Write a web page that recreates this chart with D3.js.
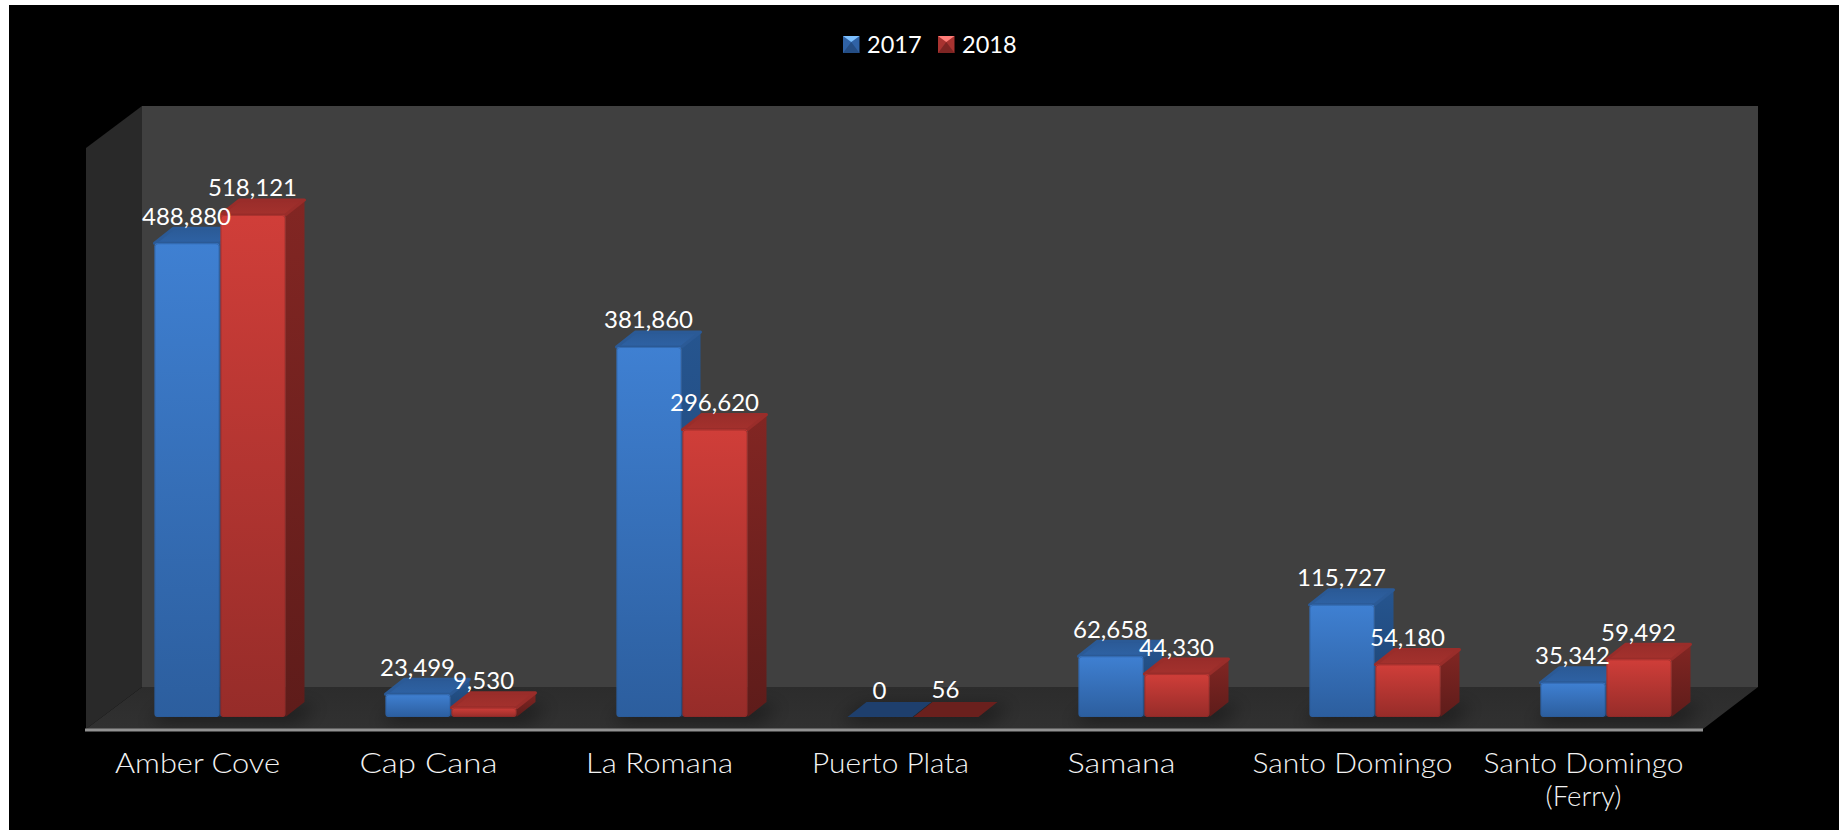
<!DOCTYPE html>
<html><head><meta charset="utf-8">
<script src="https://cdn.jsdelivr.net/npm/d3@7"></script>
<style>
html,body{margin:0;padding:0;background:#fff;overflow:hidden}
svg{display:block}
.cat text{font-family:Lato,sans-serif;font-weight:300;font-size:28px;fill:#f2f2f2}
.val{font-family:Lato,sans-serif;font-size:24px;fill:#fff;text-anchor:middle}
.leg{font-family:Lato,sans-serif;font-size:23.5px;fill:#fff}
</style></head><body>
<svg id="c" width="1846" height="830"></svg>
<script>
const categories=["Amber Cove","Cap Cana","La Romana","Puerto Plata","Samana","Santo Domingo","Santo Domingo (Ferry)"];
const seriesNames=["2017","2018"];
const values2017=[488880,23499,381860,0,62658,115727,35342];
const values2018=[518121,9530,296620,56,44330,54180,59492];
const seriesValues=[values2017,values2018];

const W=1846,H=830;
const svg=d3.select("#c");
const defs=svg.append("defs");
function grad(id,a,b){
  const g=defs.append("linearGradient").attr("id",id).attr("x1",0).attr("y1",0).attr("x2",0).attr("y2",1);
  g.append("stop").attr("offset",0).attr("stop-color",a);
  g.append("stop").attr("offset",1).attr("stop-color",b);
}
grad("f0","#3f80d2","#2c5e9e");grad("f1","#d03e39","#962c29");
grad("s0","#26558f","#1c4270");grad("s1","#822623","#5e1c1a");
grad("t0","#2b5a96","#2e62a4");grad("t1","#992d2a","#a4312d");
grad("floor","#2c2c2c","#313131");
defs.append("filter").attr("id","blur").attr("x","-40%").attr("y","-150%").attr("width","180%").attr("height","400%")
  .append("feGaussianBlur").attr("stdDeviation",9);

svg.append("rect").attr("x",9).attr("y",5).attr("width",1830).attr("height",H-5).attr("fill","#000");

const frontL=86,frontR=1703,axisY=729,dx=56,dy=42,barDx=19,barDy=15;
const x=d3.scaleBand().domain(categories).range([frontL,frontR]);
const inner=d3.scaleBand().domain(seriesNames).range([0,132]);
const y=d3.scaleLinear().domain([0,600000]).range([717,135.6]);
const pts=a=>"M"+a.map(p=>p.join(",")).join("L")+"Z";
const barLeft=c=>x(c)+(x.step()-130)/2+18;

// walls and floor
const wallTop=106,wallBottom=axisY-dy;
svg.append("path").attr("d",pts([[frontL,wallTop+dy],[frontL+dx,wallTop],[frontL+dx,wallBottom],[frontL,axisY]])).attr("fill","#292929");
svg.append("rect").attr("x",frontL+dx).attr("y",wallTop).attr("width",frontR-frontL-1).attr("height",wallBottom-wallTop).attr("fill","#404040");
svg.append("path").attr("d",pts([[frontL,axisY],[frontL+dx,wallBottom],[frontR+dx-1,wallBottom],[frontR,axisY]])).attr("fill","url(#floor)");

// floor shadows
const shadowG=svg.append("g").attr("filter","url(#blur)");
categories.forEach(c=>{
  const x0=barLeft(c);
  shadowG.append("path").attr("d",pts([[x0-8,723],[x0+142,723],[x0+164,706],[x0+14,706]])).attr("fill","#000").attr("opacity",0.42);
});
svg.append("rect").attr("x",frontL-1).attr("y",axisY-0.5).attr("width",frontR-frontL+1).attr("height",3).attr("fill","#929292");

// bars
const barW=inner.bandwidth();
const barsG=svg.append("g");
categories.forEach((c,ci)=>{
  seriesNames.forEach((s,si)=>{
    const v=seriesValues[si][ci];
    const x0=barLeft(c)+inner(s),x1=x0+barW-1,yT=y(v),yB=y(0);
    const flat=yB-yT<2;
    const g=barsG.append("g");
    if(!flat) g.append("path").attr("d",pts([[x1,yT],[x1+barDx,yT-barDy],[x1+barDx,yB-barDy],[x1,yB]])).attr("fill",`url(#s${si})`);
    g.append("path").attr("d",pts([[x0,yT],[x0+barDx,yT-barDy],[x1+barDx,yT-barDy],[x1,yT]]))
      .attr("fill",flat?(si?"#6a201d":"#1e3f6d"):`url(#t${si})`)
      .attr("stroke",flat?"none":(si?"#992d2a":"#2b5a96")).attr("stroke-linejoin","round").attr("stroke-width",3);
    if(!flat){
      g.append("rect").attr("x",x0).attr("y",yT).attr("width",x1-x0).attr("height",yB-yT).attr("rx",3)
        .attr("fill",`url(#f${si})`);
      g.append("rect").attr("x",x0+0.5).attr("y",yT+0.5).attr("width",x1-x0-1).attr("height",yB-yT-1).attr("rx",3)
        .attr("fill","none").attr("stroke",si?"#8a2826":"#2a5a98").attr("stroke-opacity",0.55);
    }
  });
});

// value labels
const labelsG=svg.append("g");
categories.forEach((c,ci)=>{
  seriesNames.forEach((s,si)=>{
    const v=seriesValues[si][ci];
    labelsG.append("text").attr("class","val")
      .attr("x",barLeft(c)+inner(s)+barW/2-1)
      .attr("y",y(v)-barDy-3.5).text(d3.format(",")(v));
  });
});

// category axis: the lines are stretched to the width the original typeface gives them
const lineWidths={"Amber Cove":165,"Cap Cana":138,"La Romana":147,"Puerto Plata":157,"Samana":108,"Santo Domingo":200,"(Ferry)":76};
const axisG=svg.append("g").attr("class","cat").attr("transform",`translate(-4,${axisY})`)
  .call(d3.axisBottom(x).tickSize(0).tickFormat(""));
axisG.select(".domain").remove();
axisG.selectAll(".tick text").each(function(d){
  const t=d3.select(this).attr("y",0).attr("dy",null).attr("text-anchor","middle");
  d.split(/ (?=\()/).forEach((line,i)=>{
    t.append("tspan").attr("x",0).attr("y",44+i*33)
      .attr("textLength",lineWidths[line]).attr("lengthAdjust","spacingAndGlyphs").text(line);
  });
});

// legend
const legX=d3.scaleOrdinal().domain(seriesNames).range([843,938]);
const pal=[["#2f62a6","#7cc0ff","#244d84","#2a5a98"],["#a83330","#ff7d78","#7e2523","#962c29"]];
seriesNames.forEach((s,i)=>{
  const a=legX(s),b=a+16.5,t=36,u=53,mx=(a+b)/2,my=t+6;
  const g=svg.append("g");
  g.append("rect").attr("x",a).attr("y",t).attr("width",b-a).attr("height",u-t).attr("fill",pal[i][0]);
  g.append("path").attr("d",pts([[a,u],[mx,my],[b,u]])).attr("fill",pal[i][2]);
  g.append("path").attr("d",pts([[a,t],[b,t],[mx,my]])).attr("fill",pal[i][1]);
  g.append("text").attr("class","leg").attr("x",a+24).attr("y",53).text(s);
});
</script></body></html>
